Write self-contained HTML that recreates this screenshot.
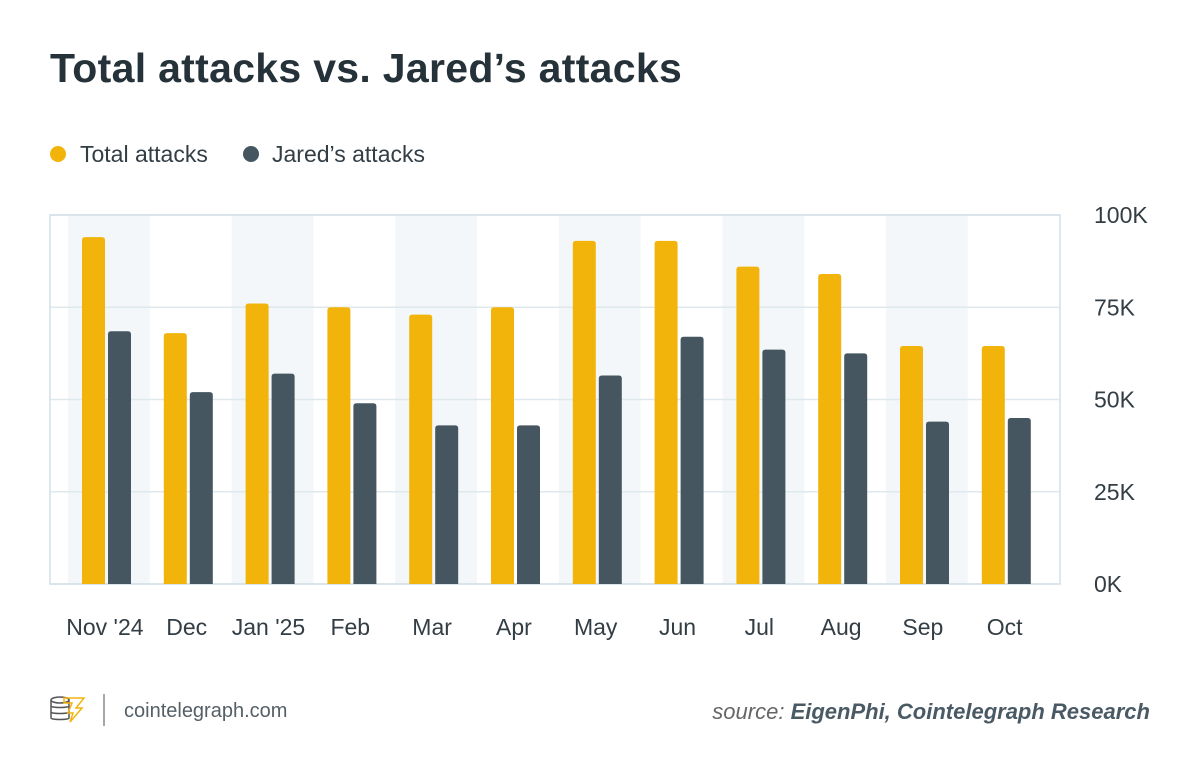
<!DOCTYPE html>
<html><head><meta charset="utf-8"><style>
body{margin:0;width:1200px;height:777px;background:#fff;font-family:"Liberation Sans",sans-serif;overflow:hidden}
</style></head><body>
<svg width="1200" height="777" xmlns="http://www.w3.org/2000/svg">
<text x="50" y="82" font-size="41" font-weight="bold" fill="#253239" letter-spacing="0.3">Total attacks vs. Jared’s attacks</text>
<g>
<circle cx="58" cy="154" r="8" fill="#f2b40a"/>
<text x="80" y="162" font-size="23" fill="#333d44">Total attacks</text>
<circle cx="251" cy="154" r="8" fill="#455661"/>
<text x="272" y="162" font-size="23" fill="#333d44">Jared’s attacks</text>
</g>
<g id="plot"></g>
<g>
<g fill="none" stroke="#555" stroke-width="1.5">
<ellipse cx="60" cy="700" rx="9" ry="3"/><path d="M51 700v6c0 2 18 2 18 0v-6M51 706v6c0 2 18 2 18 0v-6M51 712v6c0 2 18 2 18 0v-6"/>
<path d="M64 698h20l-8 10h6l-12 14 3-9h-5l4-10h-8z" stroke="#f2b40a"/>
</g>
<line x1="104" y1="694" x2="104" y2="726" stroke="#888" stroke-width="1.5"/>
<text x="124" y="717" font-size="20" fill="#555f66">cointelegraph.com</text>
<text x="1150" y="719" font-size="22" font-style="italic" fill="#666" text-anchor="end">source: <tspan font-weight="bold" fill="#4a5a64">EigenPhi, Cointelegraph Research</tspan></text>
</g>
</svg>
<script>
const categories=["Nov '24","Dec","Jan '25","Feb","Mar","Apr","May","Jun","Jul","Aug","Sep","Oct"];
const totalAttacks=[94,68,76,75,73,75,93,93,86,84,64.5,64.5];
const jaredAttacks=[68.5,52,57,49,43,43,56.5,67,63.5,62.5,44,45];
const yTicks=[0,25,50,75,100];
const yTickLabels=["0K","25K","50K","75K","100K"];
const NS="http://www.w3.org/2000/svg";
const g=document.getElementById('plot');
const L=50,R=1060,T=215,B=584,B0=68,BW=81.8;
const y=v=>B-(v/100)*(B-T);
const bx=i=>B0+i*BW;
function mk(t,a){const e=document.createElementNS(NS,t);for(const k in a)e.setAttribute(k,a[k]);g.appendChild(e);return e;}
categories.forEach((c,i)=>{if(i%2===0){const r=mk('rect',{x:bx(i),y:T,width:BW,height:B-T,fill:'#f3f7f9'});

}});
yTicks.forEach((t,i)=>{const l=mk('line',{x1:L,x2:R,y1:y(t),y2:y(t),stroke:'#dfe8ec','stroke-width':1.5});


const tx=mk('text',{x:1094,y:y(t)+8,'font-size':23,fill:'#333d44'});tx.textContent=yTickLabels[i];

});
const fr=mk('rect',{x:L,y:T,width:R-L,height:B-T,fill:'none',stroke:'#d3e0e6','stroke-width':1.5});


categories.forEach((c,i)=>{
const x0=bx(i)+14;
const a=mk('path',{d:bar(x0,23,y(totalAttacks[i])),fill:'#f2b40a'});


const b=mk('path',{d:bar(x0+26,23,y(jaredAttacks[i])),fill:'#455661'});


const t=mk('text',{x:bx(i)+BW/2-4,y:635,'font-size':23,fill:'#333d44','text-anchor':'middle'});t.textContent=c;


});
function bar(x,w,top){const r=3;return `M${x},${B}V${top+r}Q${x},${top} ${x+r},${top}H${x+w-r}Q${x+w},${top} ${x+w},${top+r}V${B}Z`;}
</script>
</body></html>
